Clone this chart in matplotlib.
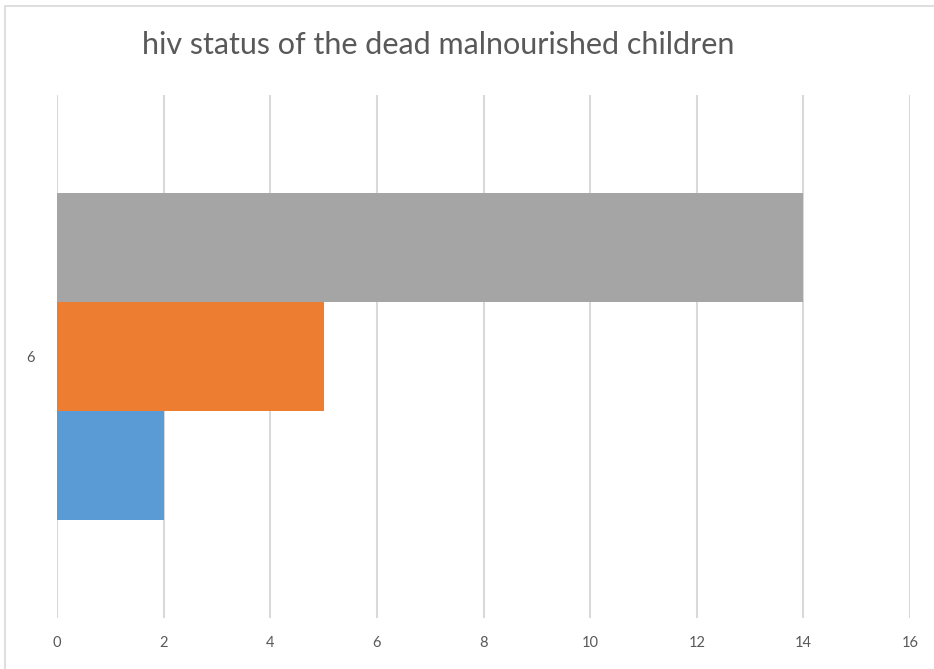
import matplotlib.pyplot as plt
from matplotlib.patches import Rectangle

# hiv status counts for category 6
categories = ['6']
series_names = ['Series1', 'Series2', 'Series3']
series_values = [[2], [5], [14]]
series_colors = ['#5B9BD5', '#ED7D31', '#A5A5A5']
xticks = [0, 2, 4, 6, 8, 10, 12, 14, 16]

plt.rcParams['font.family'] = ['Lato', 'DejaVu Sans']

fig = plt.figure(figsize=(9.34, 6.69), dpi=100)
ax = fig.add_axes([57 / 934, 51 / 669, 853 / 934, 523 / 669])

bar_h = 0.208
offsets = [-bar_h, 0, bar_h]
for vals, off, col, name in zip(series_values, offsets, series_colors, series_names):
    ax.barh([i + off for i in range(len(categories))], vals, height=bar_h,
            color=col, label=name, zorder=3)

ax.set_xlim(0, 16)
ax.set_ylim(-0.5, 0.5)
ax.set_xticks(xticks)
ax.set_xticklabels([str(t) for t in xticks])
ax.set_yticks(range(len(categories)))
ax.set_yticklabels(categories)
ax.tick_params(axis='both', length=0, labelsize=10.5, colors='#595959')
ax.tick_params(axis='x', pad=13)
ax.tick_params(axis='y', pad=16)
ax.grid(axis='x', color='#D9D9D9', linewidth=1.5, zorder=0)
for s in ax.spines.values():
    s.set_visible(False)

fig.text(438 / 934, 1 - 45 / 669, 'hiv status of the dead malnourished children',
         ha='center', va='center', fontsize=22, color='#595959')

# light frame around the chart area
fig.patches.append(Rectangle((5 / 934, -0.1), 1.2, 1 - 6 / 669 + 0.1,
                             transform=fig.transFigure, fill=False,
                             edgecolor='#D9D9D9', linewidth=1.2))

fig.savefig('out.png', dpi=100)
